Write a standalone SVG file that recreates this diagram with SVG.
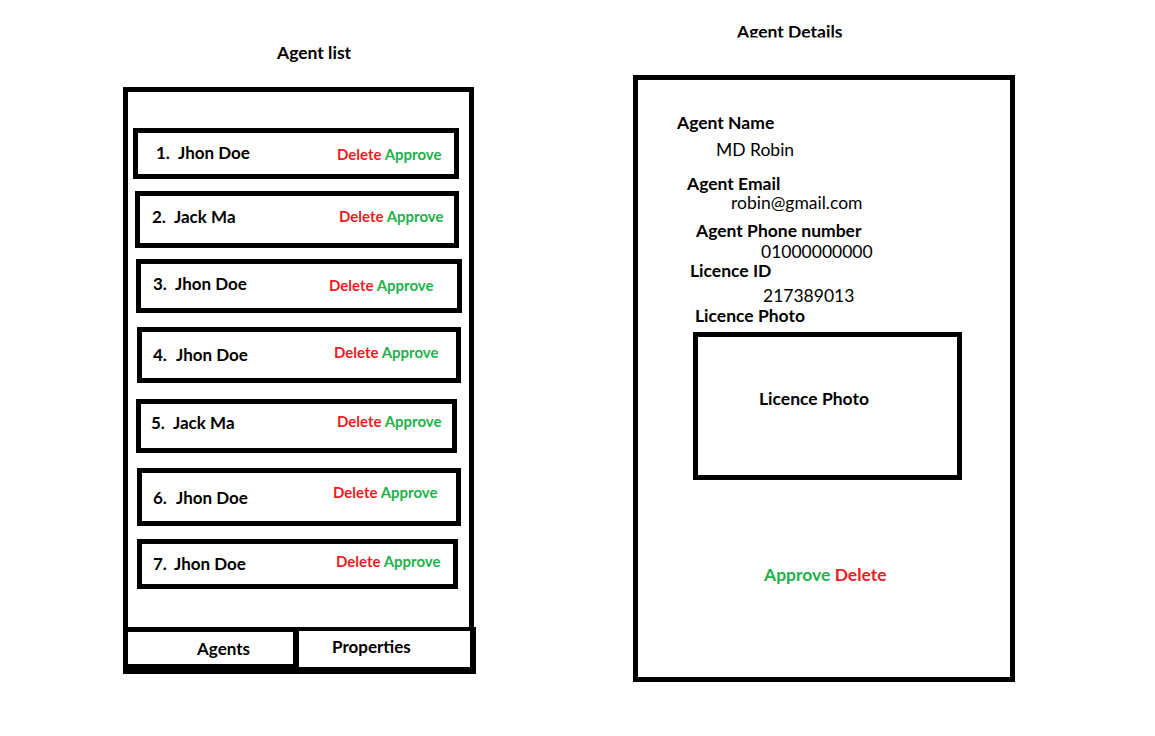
<svg xmlns="http://www.w3.org/2000/svg" width="1155" height="736" viewBox="0 0 1155 736">
<style>
text{font-family:Lato,"Open Sans","Liberation Sans",sans-serif;fill:#000}
.b{font-weight:bold;font-size:17.5px}
.r{font-weight:normal;font-size:17.5px}
.nm{font-weight:bold;font-size:17px}
.act{font-weight:bold;font-size:15px}
.red{fill:#ED1C24}
.grn{fill:#22B14C}
.box{fill:#fff;stroke:#000;stroke-width:5}
</style>
<defs>
<clipPath id="clipTitle"><rect x="700" y="0" width="200" height="37.5"/></clipPath>
</defs>
<rect width="1155" height="736" fill="#fff"/>

<g id="title-agent-list"><text class="b" x="277" y="59">Agent list</text></g>
<g id="title-agent-details" clip-path="url(#clipTitle)"><text class="b" x="737" y="38">Agent Details</text></g>

<g id="agent-list-frame">
<rect class="box" x="125.5" y="89.5" width="346" height="581"/>
</g>

<g id="item-1">
<rect class="box" x="135.5" y="130.5" width="321" height="46"/>
<text class="nm" y="159"><tspan x="156">1.</tspan><tspan x="178">Jhon Doe</tspan></text>
<text class="act" x="337" y="160"><tspan class="red">Delete</tspan> <tspan class="grn">Approve</tspan></text>
</g>
<g id="item-2">
<rect class="box" x="137.5" y="193.5" width="319" height="52"/>
<text class="nm" y="223"><tspan x="152">2.</tspan><tspan x="174">Jack Ma</tspan></text>
<text class="act" x="339" y="222"><tspan class="red">Delete</tspan> <tspan class="grn">Approve</tspan></text>
</g>
<g id="item-3">
<rect class="box" x="138.5" y="261.5" width="321" height="49"/>
<text class="nm" y="290"><tspan x="153">3.</tspan><tspan x="175">Jhon Doe</tspan></text>
<text class="act" x="329" y="291"><tspan class="red">Delete</tspan> <tspan class="grn">Approve</tspan></text>
</g>
<g id="item-4">
<rect class="box" x="139.5" y="329.5" width="319" height="51"/>
<text class="nm" y="361"><tspan x="153">4.</tspan><tspan x="176">Jhon Doe</tspan></text>
<text class="act" x="334" y="358"><tspan class="red">Delete</tspan> <tspan class="grn">Approve</tspan></text>
</g>
<g id="item-5">
<rect class="box" x="138.5" y="401.5" width="316" height="49"/>
<text class="nm" y="429"><tspan x="151">5.</tspan><tspan x="173">Jack Ma</tspan></text>
<text class="act" x="337" y="427"><tspan class="red">Delete</tspan> <tspan class="grn">Approve</tspan></text>
</g>
<g id="item-6">
<rect class="box" x="139.5" y="470.5" width="319" height="53"/>
<text class="nm" y="504"><tspan x="153">6.</tspan><tspan x="176">Jhon Doe</tspan></text>
<text class="act" x="333" y="498"><tspan class="red">Delete</tspan> <tspan class="grn">Approve</tspan></text>
</g>
<g id="item-7">
<rect class="box" x="139.5" y="541.5" width="316" height="45"/>
<text class="nm" y="570"><tspan x="153">7.</tspan><tspan x="174">Jhon Doe</tspan></text>
<text class="act" x="336" y="567"><tspan class="red">Delete</tspan> <tspan class="grn">Approve</tspan></text>
</g>

<g id="tabs">
<rect x="123" y="627" width="353" height="47" fill="#000"/>
<g id="tab-agents">
<rect x="128" y="632" width="165" height="32" fill="#fff"/>
<text class="nm" x="197" y="655">Agents</text>
</g>
<g id="tab-properties">
<rect x="299" y="631" width="171" height="36" fill="#fff"/>
<text class="nm" x="332" y="653">Properties</text>
</g>
</g>

<g id="agent-details-frame">
<rect class="box" x="635.5" y="77.5" width="377" height="602"/>
<text class="b" x="677" y="129">Agent Name</text>
<text class="r" x="716" y="156">MD Robin</text>
<text class="b" x="687" y="190">Agent Email</text>
<text class="r" x="731" y="209">robin@gmail.com</text>
<text class="b" x="696" y="237">Agent Phone number</text>
<text class="r" x="761" y="258">01000000000</text>
<text class="b" x="690" y="277">Licence ID</text>
<text class="r" x="763" y="302">217389013</text>
<text class="b" x="695" y="322">Licence Photo</text>
</g>

<g id="licence-photo">
<rect class="box" x="695.5" y="334.5" width="264" height="143"/>
<text class="b" x="759" y="405">Licence Photo</text>
</g>

<g id="detail-actions">
<text class="b" x="764" y="581"><tspan class="grn">Approve</tspan> <tspan class="red">Delete</tspan></text>
</g>

<g id="connectors"></g>
</svg>
